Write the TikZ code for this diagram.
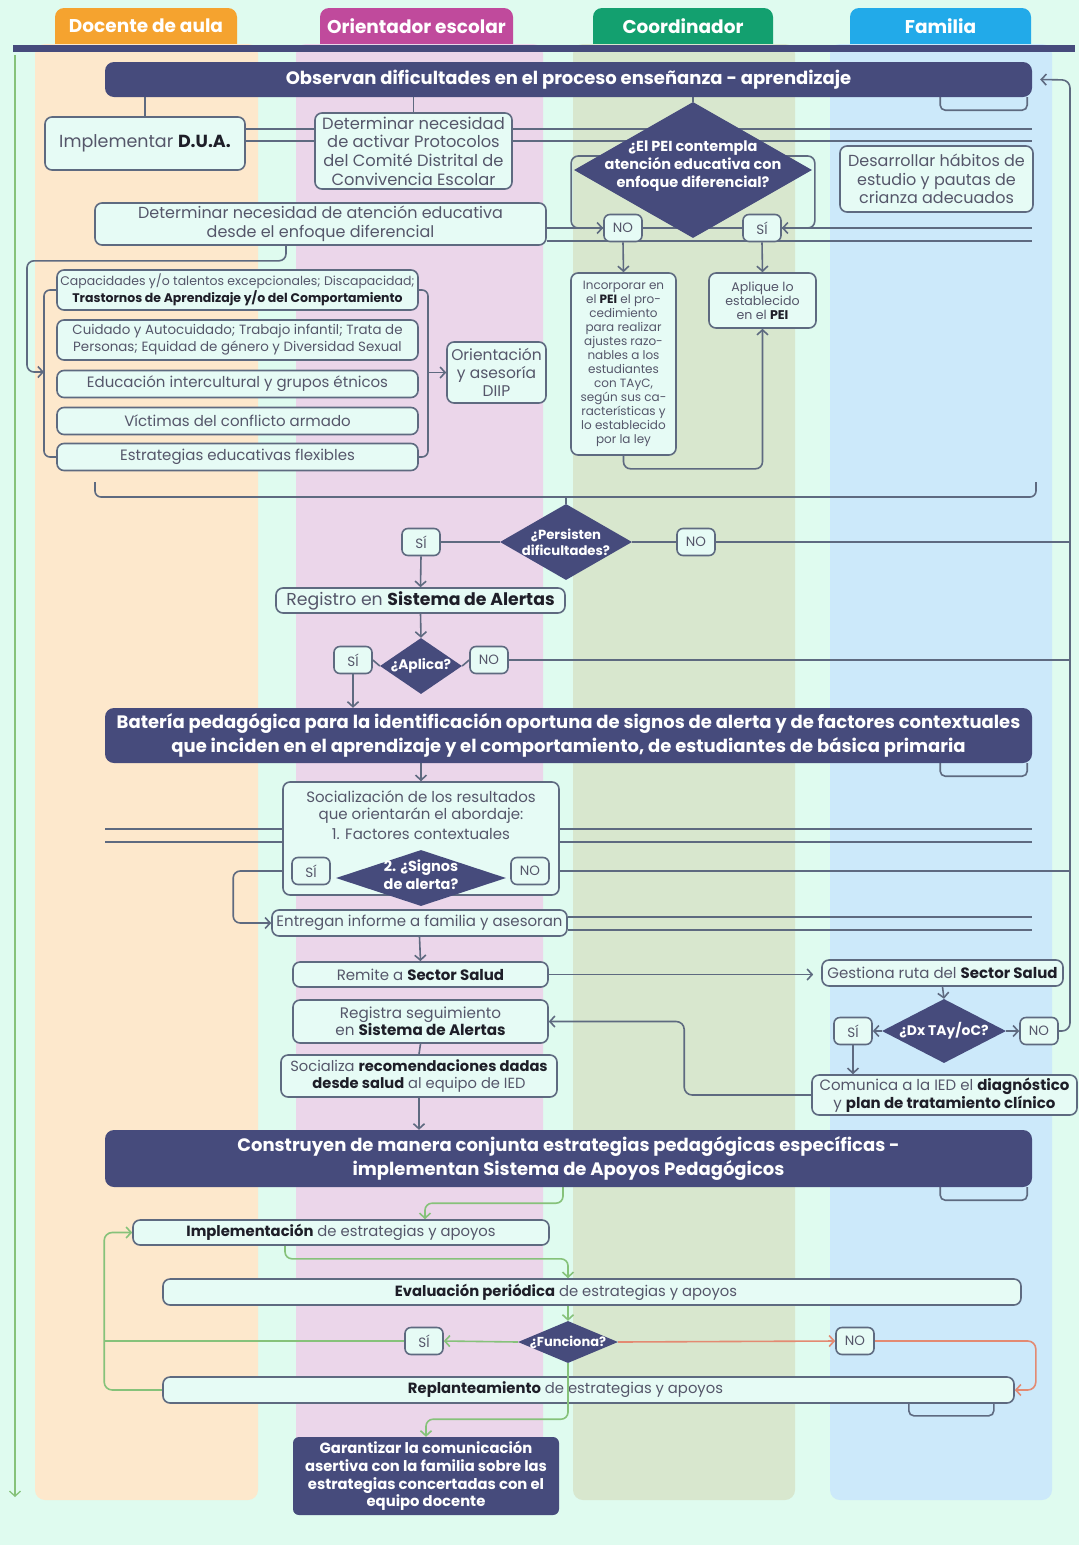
\documentclass[tikz,border=0pt]{standalone}
\usepackage{fontspec}
\setmainfont{Poppins}
\usetikzlibrary{shapes.geometric,arrows.meta}

\definecolor{mint}{HTML}{DFFBEF}
\definecolor{boxfill}{HTML}{E6FBF5}
\definecolor{boxline}{HTML}{5E6A80}
\definecolor{navy}{HTML}{464B7C}
\definecolor{txt}{HTML}{55566A}
\definecolor{txtbold}{HTML}{1E1E28}
\definecolor{laneorange}{HTML}{FDE8CC}
\definecolor{lanepink}{HTML}{EBD6EA}
\definecolor{lanegreen}{HTML}{D8E7CE}
\definecolor{laneblue}{HTML}{CCE9FA}
\definecolor{hdorange}{HTML}{F5A32F}
\definecolor{hdpink}{HTML}{C04A9C}
\definecolor{hdgreen}{HTML}{13A06F}
\definecolor{hdblue}{HTML}{22AAE9}
\definecolor{okgreen}{HTML}{86C27A}
\definecolor{nored}{HTML}{E38A72}

\pgfdeclarelayer{back}
\pgfdeclarelayer{mid}
\pgfsetlayers{back,mid,main}

\newcommand{\bld}[1]{{\bfseries\color{txtbold}#1}}
\newcommand{\fs}[2]{\fontsize{#1}{#2}\selectfont}

\tikzset{
  box/.style={draw=boxline, line width=1.6pt, fill=boxfill, rounded corners=7pt, inner sep=0pt, align=center, text=txt, font=\fs{16}{18.5}},
  boxtext/.style={text=txt, align=center, font=\fs{14.8}{17}},
  yn/.style={box, rounded corners=6pt, minimum width=38, minimum height=27, font=\fs{13.5}{13.5}},
  banner/.style={fill=navy, rounded corners=9pt, inner sep=0pt, align=center, text=white, font=\bfseries\fs{18}{23.5}},
  dia/.style={diamond, fill=navy, inner sep=0pt},
  diatext/.style={text=white, align=center, font=\bfseries\fs{14.5}{18}},
  htext/.style={text=white, font=\bfseries\fs{18.5}{18.5}},
  conn/.style={draw=boxline, line width=1.6pt},
  arr/.style={conn, -{Straight Barb[length=5pt,width=11pt]}},
  gline/.style={draw=okgreen, line width=1.6pt},
  garr/.style={gline, -{Straight Barb[length=5pt,width=11pt]}},
  rarr/.style={draw=nored, line width=1.6pt, -{Straight Barb[length=5pt,width=11pt]}},
}

\begin{document}
\begin{tikzpicture}[x=1pt, y=-1pt]
  \useasboundingbox (0,0) rectangle (1079,1545);
  % lanes and headers
  \begin{pgfonlayer}{back}
    \fill[mint] (0,0) rectangle (1079,1545);
    \fill[hdorange, rounded corners=9pt] (55,8) rectangle (237,60);
    \fill[hdpink, rounded corners=9pt] (320,8) rectangle (513,60);
    \fill[hdgreen, rounded corners=9pt] (593,8) rectangle (773,60);
    \fill[hdblue, rounded corners=9pt] (850,8) rectangle (1031,60);
    \fill[laneorange, rounded corners=10pt] (35,44) rectangle (258,1500);
    \fill[lanepink, rounded corners=10pt] (296,44) rectangle (543,1500);
    \fill[lanegreen, rounded corners=10pt] (573,44) rectangle (795,1500);
    \fill[laneblue, rounded corners=10pt] (830,44) rectangle (1052,1500);
    \fill[navy] (13,45) rectangle (1075,52);
  \end{pgfonlayer}
  \node[htext] (hdoc) at (146,26) {Docente de aula};
  \node[htext] (hori) at (416.5,26) {Orientador escolar};
  \node[htext] (hcoo) at (683,26) {Coordinador};
  \node[htext] (hfam) at (940.5,26) {Familia};

  % first block
  \node[banner, minimum width=927, minimum height=35] (obs) at (568.5,79.5) {Observan dificultades en el proceso enseñanza - aprendizaje};
  \node[box, minimum width=200, minimum height=53, font=\fs{17.5}{18}] (dua) at (145,143.5) {Implementar \bld{D.U.A.}};
  \node[box, minimum width=197, minimum height=76, font=\fs{16.3}{18.7}] (protocolos) at (413.5,151) {Determinar necesidad\\de activar Protocolos\\del Comité Distrital de\\Convivencia Escolar};
  \node[dia, minimum width=238, minimum height=136, label={[diatext, yshift=4pt]center:{¿El PEI contempla\\atención educativa con\\enfoque diferencial?}}] (pei) at (693,170) {};
  \node[box, minimum width=193, minimum height=66] (desarrollar) at (936.5,179) {Desarrollar hábitos de\\estudio y pautas de\\crianza adecuados};
  \node[box, minimum width=451, minimum height=42, font=\fs{16}{19}] (atencion) at (320.5,224) {Determinar necesidad de atención educativa\\desde el enfoque diferencial};
  \node[yn] (no1) at (623,228) {NO};
  \node[yn] (si1) at (762,228) {SÍ};
  \node[box, minimum width=105, minimum height=182, font=\fs{12}{14}] (incorporar) at (623.5,364) {Incorporar en\\el \bld{PEI} el pro-\\cedimiento\\para realizar\\ajustes razo-\\nables a los\\estudiantes\\con TAyC,\\según sus ca-\\racterísticas y\\lo establecido\\por la ley};
  \node[box, minimum width=107, minimum height=55, font=\fs{12.6}{14}] (aplique) at (762.5,300.5) {Aplique lo\\establecido\\en el \bld{PEI}};

  % enfoque diferencial
  \node[box, minimum width=361, minimum height=40, font=\fs{12.5}{17}] (cap) at (237.5,290) {Capacidades y/o talentos excepcionales; Discapacidad;\\\bld{Trastornos de Aprendizaje y/o del Comportamiento}};
  \node[box, minimum width=361, minimum height=40, font=\fs{13.4}{17}] (cui) at (237.5,340) {Cuidado y Autocuidado; Trabajo infantil; Trata de\\Personas; Equidad de género y Diversidad Sexual};
  \node[box, minimum width=361, minimum height=27, font=\fs{15}{16}] (edu) at (237.5,384) {Educación intercultural y grupos étnicos};
  \node[box, minimum width=361, minimum height=27, font=\fs{15}{16}] (vic) at (237.5,421) {Víctimas del conflicto armado};
  \node[box, minimum width=361, minimum height=27, font=\fs{15}{16}] (est) at (237.5,457) {Estrategias educativas flexibles};
  \node[box, minimum width=99, minimum height=61, font=\fs{15.5}{18}] (diip) at (496.5,372.5) {Orientación\\y asesoría\\DIIP};

  % alertas
  \node[dia, minimum width=132, minimum height=76, label={[diatext, font=\bfseries\fs{13.2}{16}]center:{¿Persisten\\dificultades?}}] (persisten) at (566,542) {};
  \node[yn] (si2) at (421,542) {SÍ};
  \node[yn] (no2) at (696,542) {NO};
  \node[box, minimum width=289, minimum height=25, font=\fs{17.3}{17}] (registro) at (420.5,600.5) {Registro en \bld{Sistema de Alertas}};
  \node[dia, minimum width=82, minimum height=56, label={[diatext, font=\bfseries\fs{13.8}{14}]center:{¿Aplica?}}] (aplica) at (421,666) {};
  \node[yn] (si3) at (353,660) {SÍ};
  \node[yn] (no3) at (489,660) {NO};
  \node[banner, minimum width=927, minimum height=55] (bateria) at (568.5,735.5) {Batería pedagógica para la identificación oportuna de signos de alerta y de factores contextuales\\que inciden en el aprendizaje y el comportamiento, de estudiantes de básica primaria};

  % resultados y salud
  \node[box, minimum width=276, minimum height=113, label={[boxtext, font=\fs{15}{17}, anchor=north, yshift=-6pt]north:{Socialización de los resultados\\que orientarán el abordaje:\\[3pt]1. Factores contextuales}}] (socializacion) at (421,838.5) {};
  \node[dia, minimum width=170, minimum height=56, label={[diatext, font=\bfseries\fs{14.5}{18}, yshift=3pt]center:{2. ¿Signos\\de alerta?}}] (signos) at (421,878) {};
  \node[yn] (si4) at (311,871) {SÍ};
  \node[yn] (no4) at (530,871) {NO};
  \node[box, minimum width=295, minimum height=26, font=\fs{15}{16}] (entregan) at (419.5,923) {Entregan informe a familia y asesoran};
  \node[box, minimum width=255, minimum height=25, font=\fs{15}{16}] (remite) at (420.5,974.5) {Remite a \bld{Sector Salud}};
  \node[box, minimum width=241, minimum height=26, font=\fs{15}{16}] (gestiona) at (942.5,973) {Gestiona ruta del \bld{Sector Salud}};
  \node[dia, minimum width=124, minimum height=64, label={[diatext, font=\bfseries\fs{13.9}{14}]center:{¿Dx TAy/oC?}}] (dx) at (944,1031) {};
  \node[yn] (si5) at (853,1031) {SÍ};
  \node[yn] (no5) at (1039,1031) {NO};
  \node[box, minimum width=265, minimum height=40, font=\fs{15}{18}] (comunica) at (944.5,1095) {Comunica a la IED el \bld{diagnóstico}\\y \bld{plan de tratamiento clínico}};
  \node[box, minimum width=255, minimum height=43, font=\fs{15.2}{16.5}] (registra) at (420.5,1021.5) {Registra seguimiento\\en \bld{Sistema de Alertas}};
  \node[box, minimum width=276, minimum height=42, font=\fs{14.7}{17}] (socializa) at (419,1076) {Socializa \bld{recomendaciones dadas}\\\bld{desde salud} al equipo de IED};
  \node[banner, minimum width=927, minimum height=57] (construyen) at (568.5,1158.5) {Construyen de manera conjunta estrategias pedagógicas específicas -\\implementan Sistema de Apoyos Pedagógicos};

  % apoyos pedagogicos
  \node[box, minimum width=416, minimum height=25, font=\fs{14.8}{16}] (implementacion) at (341,1232.5) {\bld{Implementación} de estrategias y apoyos};
  \node[box, minimum width=858, minimum height=26, label={[boxtext, xshift=-26pt]center:{\bld{Evaluación periódica} de estrategias y apoyos}}] (evaluacion) at (592,1292) {};
  \node[dia, minimum width=100, minimum height=42, label={[diatext, font=\bfseries\fs{13}{14}]center:{¿Funciona?}}] (funciona) at (568,1342) {};
  \node[yn] (si6) at (424,1341) {SÍ};
  \node[yn] (no6) at (855,1341) {NO};
  \node[box, minimum width=851, minimum height=26, label={[boxtext, xshift=-23pt]center:{\bld{Replanteamiento} de estrategias y apoyos}}] (replanteamiento) at (588.5,1390) {};
  \node[banner, minimum width=266, minimum height=78, rounded corners=6pt, font=\bfseries\fs{14.8}{17.7}] (garantizar) at (426,1476) {Garantizar la comunicación\\asertiva con la familia sobre las\\estrategias concertadas con el\\equipo docente};

  % free ends
  \coordinate (e1) at (1032,129);
  \coordinate (e2) at (1032,141);
  \coordinate (e3) at (1032,228);
  \coordinate (e4) at (1032,241);
  \coordinate (w5) at (105,829);
  \coordinate (e5) at (1032,829);
  \coordinate (w6) at (105,842);
  \coordinate (e6) at (1032,842);
  \coordinate (e7) at (1032,917);
  \coordinate (e8) at (1032,930);
  \coordinate (trunk) at (1070,80);
  \coordinate (lbr) at (44,372);
  \coordinate (rbr) at (428,372.5);
  \coordinate (gleft) at (105,1341);
  \coordinate (ltop) at (15,55);
  \coordinate (lbot) at (15,1497);

  \begin{pgfonlayer}{mid}
    \draw[gline, line width=1.3pt, -{Straight Barb[length=5pt,width=11pt]}] (ltop) -- (lbot);
    % under the banners
    \draw[conn, rounded corners=5pt] ([xshift=-92pt]obs.south east) -- ++(0,13) -| ([xshift=-5pt]obs.south east);
    \draw[conn, rounded corners=5pt] ([xshift=-92pt]bateria.south east) -- ++(0,13) -| ([xshift=-5pt]bateria.south east);
    \draw[conn, rounded corners=5pt] ([xshift=-92pt]construyen.south east) -- ++(0,13) -| ([xshift=-5pt]construyen.south east);
    \draw[conn, rounded corners=5pt] ([xshift=-106pt]replanteamiento.south east) -- ++(0,12) -| ([xshift=-21pt]replanteamiento.south east);
    % first block
    \draw[conn] (obs.south -| dua.north) -- (dua.north);
    \draw[conn] (obs.south -| protocolos.north) -- (protocolos.north);
    \draw[conn] (obs.south -| pei.north) -- (pei.north);
    \draw[conn] (dua.east |- e1) -- (e1);
    \draw[conn] (dua.east |- e2) -- (e2);
    \draw[conn] (atencion.east |- e3) -- (e3);
    \draw[conn] (atencion.east |- e4) -- (e4);
    \draw[arr, rounded corners=7pt] (pei.center |- 0,156) -| ([xshift=-32pt]no1.west) -- (no1.west);
    \draw[arr, rounded corners=7pt] (pei.center |- 0,156) -| ([xshift=33pt]si1.east) -- (si1.east);
    \draw[arr] (no1.south) -- (incorporar.north);
    \draw[arr] (si1.south) -- (aplique.north);
    \draw[arr, rounded corners=7pt] (incorporar.south) -- ++(0,13) -| (aplique.south);
    % enfoque diferencial
    \draw[arr, rounded corners=7pt] ([xshift=-34.5pt]atencion.south) -- ++(0,15) -| ([xshift=-17pt]lbr) -- (lbr);
    \draw[conn, rounded corners=6pt] (cap.west) -| (lbr) |- (est.west);
    \draw[conn, rounded corners=6pt] (cap.east) -| (rbr) |- (est.east);
    \draw[arr] (rbr) -- (diip.west);
    \draw[conn, rounded corners=6pt] (95,482) |- (1036,497) -- (1036,482);
    % alertas
    \draw[conn] (persisten.north |- 0,497) -- (persisten.north);
    \draw[conn] (persisten.west) -- (si2.east);
    \draw[conn] (persisten.east) -- (no2.west);
    \draw[conn] (no2.east) -- (no2.east -| trunk);
    \draw[arr] (si2.south) -- (registro.north);
    \draw[arr] (registro.south) -- (aplica.north);
    \draw[conn] (aplica.west) -- (si3.east);
    \draw[conn] (aplica.east) -- (no3.west);
    \draw[conn] (no3.east) -- (no3.east -| trunk);
    \draw[arr] (si3.south) -- (si3.south |- bateria.north);
    % resultados y salud
    \draw[arr] (bateria.south -| socializacion.north) -- (socializacion.north);
    \draw[conn] (w5) -- (e5);
    \draw[conn] (w6) -- (e6);
    \draw[conn] (signos.west) -- (si4.east);
    \draw[conn] (signos.east) -- (no4.west);
    \draw[conn] (no4.east) -- (no4.east -| trunk);
    \draw[arr, rounded corners=7pt] (si4.west) -- ++(-58,0) |- (entregan.west);
    \draw[conn] (entregan.east |- e7) -- (e7);
    \draw[conn] (entregan.east |- e8) -- (e8);
    \draw[arr] (entregan.south) -- (remite.north);
    \draw[arr, shorten >=8pt] (remite.east) -- (remite.east -| gestiona.west);
    \draw[arr] (gestiona.south) -- (dx.north);
    \draw[arr] (dx.west) -- (si5.east);
    \draw[arr] (dx.east) -- (no5.west);
    \draw[arr, rounded corners=8pt] (no5.east) -| (trunk) -- ([xshift=8pt]obs.east);
    \draw[arr] (si5.south) -- (si5.south |- comunica.north);
    \draw[arr, rounded corners=8pt] (comunica.west) -- ++(-127,0) |- (registra.east);
    \draw[conn] (registra.south) -- (socializa.north);
    \draw[arr] (socializa.south) -- (socializa.south |- construyen.north);
    % apoyos pedagogicos
    \draw[garr, rounded corners=7pt] ([xshift=-5.5pt]construyen.south) -- ++(0,16) -| ([xshift=84pt]implementacion.north);
    \draw[garr, rounded corners=7pt] ([xshift=-56pt]implementacion.south) -- ++(0,13) -| ([xshift=-24pt]evaluacion.north);
    \draw[garr] ([xshift=-24pt]evaluacion.south) -- (funciona.north);
    \draw[garr] (funciona.west) -- (si6.east);
    \draw[gline] (si6.west) -- (gleft);
    \draw[garr, rounded corners=8pt] (replanteamiento.west) -| ([xshift=-28pt]implementacion.west) -- (implementacion.west);
    \draw[rarr] (funciona.east) -- (no6.west);
    \draw[rarr, rounded corners=8pt] (no6.east) -| ([xshift=21pt]replanteamiento.east) -- (replanteamiento.east);
  \end{pgfonlayer}
  \draw[garr, rounded corners=7pt] (funciona.south) -- ++(0,56) -| (garantizar.north);
\end{tikzpicture}
\end{document}
